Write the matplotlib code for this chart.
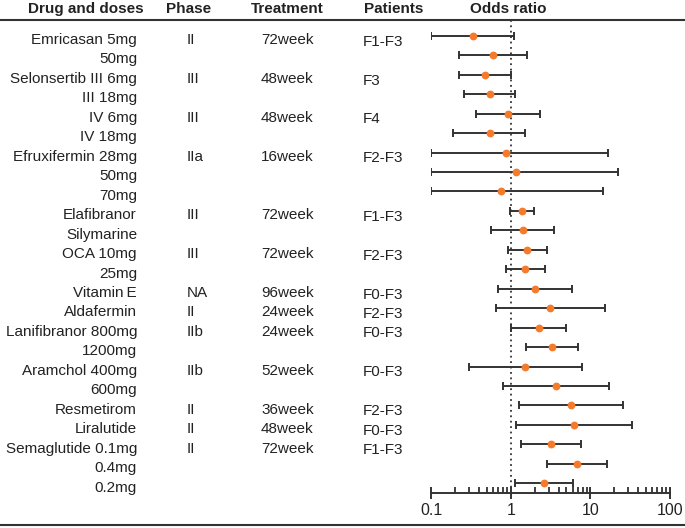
import matplotlib
matplotlib.use("Agg")
import matplotlib.pyplot as plt
from matplotlib.lines import Line2D
from matplotlib.ticker import FixedLocator, NullFormatter
import matplotlib.transforms as mtransforms
import numpy as np

plt.rcParams['font.family'] = ['Liberation Sans', 'DejaVu Sans']

# table columns
drugs = ["Emricasan 5mg", "50mg", "Selonsertib III 6mg", "III 18mg", "IV 6mg", "IV 18mg",
         "Efruxifermin 28mg", "50mg", "70mg", "Elafibranor", "Silymarine", "OCA 10mg", "25mg",
         "Vitamin\u2009E", "Aldafermin", "Lanifibranor 800mg", "1200mg", "Aramchol 400mg", "600mg",
         "Resmetirom", "Liralutide", "Semaglutide 0.1mg", "0.4mg", "0.2mg"]
phases = ["II", "", "III", "", "III", "", "IIa", "", "", "III", "", "III", "",
          "NA", "II", "IIb", "", "IIb", "", "II", "II", "II", "", ""]
treatments = ["72week", "", "48week", "", "48week", "", "16week", "", "", "72week", "", "72week", "",
              "96week", "24week", "24week", "", "52week", "", "36week", "48week", "72week", "", ""]
patients = ["F1-F3", "", "F3", "", "F4", "", "F2-F3", "", "", "F1-F3", "", "F2-F3", "",
            "F0-F3", "F2-F3", "F0-F3", "", "F0-F3", "", "F2-F3", "F0-F3", "F1-F3", "", ""]

# odds ratios with 95% CI
odds = [0.33, 0.60, 0.47, 0.54, 0.91, 0.55, 0.86, 1.17, 0.75, 1.37, 1.42, 1.62, 1.51,
        2.00, 3.12, 2.25, 3.31, 1.53, 3.72, 5.69, 6.32, 3.22, 6.76, 2.62]
ci_low = [0.10, 0.22, 0.22, 0.26, 0.36, 0.19, 0.10, 0.10, 0.10, 0.99, 0.57, 0.93, 0.86,
          0.69, 0.65, 1.02, 1.56, 0.30, 0.81, 1.26, 1.18, 1.36, 2.84, 1.12]
ci_high = [1.09, 1.62, 1.01, 1.13, 2.32, 1.53, 16.8, 22.6, 14.4, 1.95, 3.51, 2.84, 2.70,
           5.91, 15.2, 4.92, 7.03, 7.89, 17.4, 25.6, 33.6, 7.6, 16.1, 6.14]

headers = ["Drug and doses", "Phase", "Treatment", "Patients", "Odds ratio"]

W, H = 685, 528
fig = plt.figure(figsize=(W / 100, H / 100), dpi=100)
ax = fig.add_axes([431.3 / W, 1 - 493 / H, (669.7 - 431.3) / W, (493 - 20) / H])

odds = np.array(odds)
lo = np.array(ci_low)
hi = np.array(ci_high)
ypos = np.arange(1, len(odds) + 1)

dark = '#333333'
orange = '#F47B2B'

ax.errorbar(odds, ypos, xerr=[odds - lo, hi - odds], fmt='none', ecolor=dark,
            elinewidth=1.4, capsize=3, capthick=1.4, zorder=2)
ax.plot(odds, ypos, 'o', color=orange, ms=4.6, zorder=3)
ax.axvline(1, color=dark, ls=(0, (1, 2)), lw=1.3, zorder=1)

ax.set_xscale('log')
ax.set_xlim(0.1, 100)
ax.set_ylim(len(odds) + 0.5, 0.19)
ax.set_xticks([0.1, 1, 10, 100])
ax.set_xticklabels(['0.1', '1', '10', '100'], fontsize=11.5, color='#222222')
minors = [m * d for d in [0.1, 1, 10] for m in range(2, 10)]
ax.xaxis.set_minor_locator(FixedLocator(minors))
ax.xaxis.set_minor_formatter(NullFormatter())
ax.tick_params(axis='x', which='major', direction='inout', length=8, width=1.4, color=dark, pad=3)
ax.tick_params(axis='x', which='minor', direction='in', length=4, width=1.3, color=dark)
ax.set_yticks([])
for s in ['top', 'right', 'left']:
    ax.spines[s].set_visible(False)
ax.spines['bottom'].set_color(dark)
ax.spines['bottom'].set_linewidth(1.4)

# table text
tr = mtransforms.blended_transform_factory(fig.transFigure, ax.transData)
for i, y in enumerate(ypos):
    yt = y + 0.22
    ax.text(137 / W, yt, drugs[i], transform=tr, ha='right', va='center', fontsize=11, color='#222222')
    ax.text(187 / W, yt, phases[i], transform=tr, ha='left', va='center', fontsize=11, color='#222222')
    ax.text(261 / W, yt, treatments[i], transform=tr, ha='left', va='center', fontsize=11, color='#222222')
    ax.text(363 / W, yt + 0.08, patients[i], transform=tr, ha='left', va='center', fontsize=11, color='#222222')

# header
header_x = [85.5, 189, 287, 393.5, 508]
for hx, label in zip(header_x, headers):
    fig.text(hx / W, 1 - 9 / H, label, ha='center', va='center', fontsize=11,
             fontweight='bold', color='#222222')

fig.add_artist(Line2D([0, 1], [1 - 20 / H, 1 - 20 / H], transform=fig.transFigure, color=dark, lw=1.5))
fig.add_artist(Line2D([0, 1], [1 - 525 / H, 1 - 525 / H], transform=fig.transFigure, color=dark, lw=1.5))

fig.savefig("out.png", dpi=100)
